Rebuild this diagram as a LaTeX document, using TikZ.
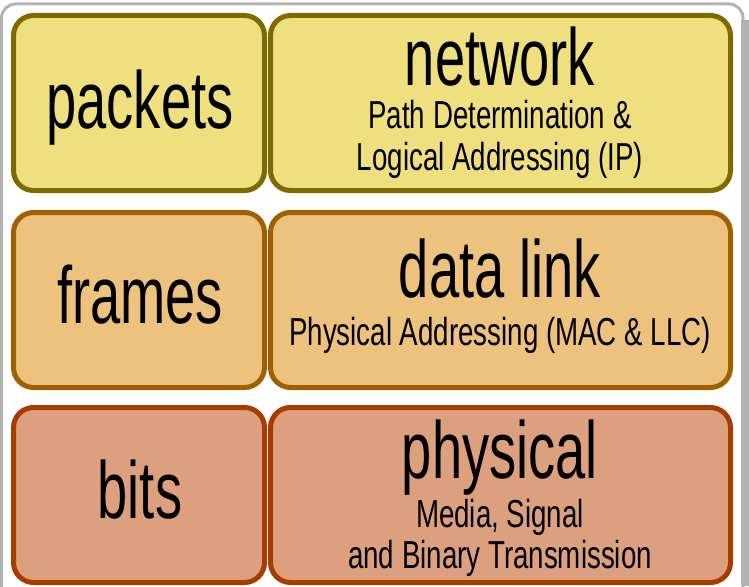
\documentclass[tikz,border=0pt]{standalone}
\usepackage{fontspec}
\newfontfamily\bigfont[FakeStretch=0.67]{Liberation Sans}
\newfontfamily\smallfont[FakeStretch=0.71]{Liberation Sans}
\definecolor{frameg}{HTML}{B3B3B3}
\definecolor{yfill}{HTML}{EEE07E}
\definecolor{ydraw}{HTML}{7F6A00}
\definecolor{ofill}{HTML}{ECC27E}
\definecolor{odraw}{HTML}{A06000}
\definecolor{rfill}{HTML}{DCA07F}
\definecolor{rdraw}{HTML}{A63C00}
\tikzset{
  layerbox/.style={rectangle, rounded corners=20pt, line width=5pt, inner sep=0pt},
  leftbox/.style={layerbox, minimum width=251pt, minimum height=175pt},
  rightbox/.style={layerbox, minimum width=460pt, minimum height=175pt},
  bigtxt/.style={anchor=base, inner sep=0pt, font=\bigfont\fontsize{81}{81}\selectfont},
  smalltxt/.style={anchor=base, inner sep=0pt, font=\smallfont\fontsize{39}{42}\selectfont},
}
\begin{document}
\begin{tikzpicture}[x={(1pt,0pt)}, y={(0pt,-1pt)}]
\useasboundingbox (0,0) rectangle (749,586);
\fill[white] (0,0) rectangle (749,586);
% gray frame
\draw[frameg, line width=3pt, rounded corners=14pt] (1.5,600) -- (1.5,4) -- (743,4) -- (743,600);
\fill[frameg] (741,20) rectangle (749,586);
% row 1
\node[leftbox, draw=ydraw, fill=yfill] (b1l) at (139,103) {};
\node[rightbox, draw=ydraw, fill=yfill] (b1r) at (500.5,103) {};
% row 2
\node[leftbox, draw=odraw, fill=ofill] (b2l) at (139,300) {};
\node[rightbox, draw=odraw, fill=ofill] (b2r) at (500.5,300) {};
% row 3
\node[leftbox, draw=rdraw, fill=rfill] (b3l) at (139,495) {};
\node[rightbox, draw=rdraw, fill=rfill] (b3r) at (500.5,495) {};
% texts
\node[bigtxt] (t1l) at (140,128) {packets};
\node[bigtxt] (t1r) at (500,85) {network};
\node[smalltxt] (s1a) at (500,128) {Path Determination \&};
\node[smalltxt] (s1b) at (500,170) {Logical Addressing (IP)};
\node[bigtxt] (t2l) at (140,323) {frames};
\node[bigtxt] (t2r) at (500,297) {data link};
\node[smalltxt] (s2a) at (500,345) {Physical Addressing (MAC \& LLC)};
\node[bigtxt] (t3l) at (140,518) {bits};
\node[bigtxt] (t3r) at (500,478) {physical};
\node[smalltxt] (s3a) at (500,527) {Media, Signal};
\node[smalltxt] (s3b) at (500,568) {and Binary Transmission};
\end{tikzpicture}
\end{document}
